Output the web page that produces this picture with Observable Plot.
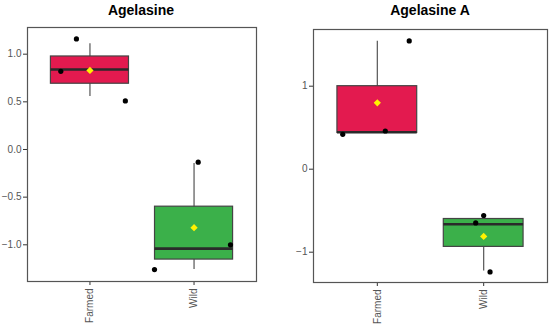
<!DOCTYPE html>
<html>
<head>
<meta charset="utf-8">
<script src="https://cdn.jsdelivr.net/npm/d3@7"></script>
<script src="https://cdn.jsdelivr.net/npm/@observablehq/plot@0.6"></script>
<style>
  html, body { margin: 0; padding: 0; background: #fff; }
  #wrap { position: relative; width: 550px; height: 328px; font-family: "Liberation Sans", Arial, sans-serif; }
  .panel { position: absolute; top: 0; width: 275px; height: 328px; }
  .title { position: absolute; top: 0; height: 20px; line-height: 20px; font-weight: bold; font-size: 14px; color: #000; text-align: center; white-space: nowrap; }
  .panel svg { position: absolute; top: 20px; left: 0; }
</style>
</head>
<body>
<div id="wrap">
  <div class="panel" id="p1" style="left:0px"></div>
  <div class="panel" id="p2" style="left:275px"></div>
</div>
<script>
// ---- data ----
const categories = ["Farmed", "Wild"];
const compounds = ["Agelasine", "Agelasine A"];
const groupColors = ["#E31A4F", "#3BB04A"];

// Agelasine box statistics (Farmed, Wild)
const agelasineLow    = [0.556, -1.26];
const agelasineQ1     = [0.69, -1.155];
const agelasineMedian = [0.84, -1.04];
const agelasineQ3     = [0.976, -0.60];
const agelasineHigh   = [1.11, -0.147];
const agelasineMean   = [0.83, -0.82];
// Agelasine jittered samples
const agelasinePointGroup = [0, 0, 0, 1, 1, 1];
const agelasinePointJitter = [-0.28, -0.13, 0.34, -0.38, 0.35, 0.04];
const agelasinePointValue = [0.82, 1.16, 0.51, -1.26, -1.0, -0.133];

// Agelasine A box statistics (Farmed, Wild)
const agelasineALow    = [0.437, -1.225];
const agelasineAQ1     = [0.437, -0.936];
const agelasineAMedian = [0.445, -0.663];
const agelasineAQ3     = [1.0, -0.60];
const agelasineAHigh   = [1.54, -0.558];
const agelasineAMean   = [0.80, -0.81];
const agelasineAPointGroup = [0, 0, 0, 1, 1, 1];
const agelasineAPointJitter = [-0.325, 0.075, 0.30, -0.075, 0.0, 0.06];
const agelasineAPointValue = [0.42, 0.46, 1.545, -0.647, -0.558, -1.237];

const agelasineTicks = [-1.0, -0.5, 0.0, 0.5, 1.0];
const agelasineATicks = [-1, 0, 1];

function boxTable(low, q1, med, q3, high, mean) {
  return categories.map((c, i) => ({
    cat: c, pos: i + 1, low: low[i], q1: q1[i], median: med[i], q3: q3[i], high: high[i], mean: mean[i], color: groupColors[i]
  }));
}
function pointTable(group, jitter, value) {
  return value.map((v, i) => ({pos: group[i] + 1 + jitter[i], value: v}));
}

function panel(opts) {
  const boxes = opts.boxes, pts = opts.points;
  const hw = 0.375;
  return Plot.plot({
    width: 275,
    height: 308,
    marginLeft: opts.marginLeft,
    marginRight: opts.marginRight,
    marginTop: opts.marginTop,
    marginBottom: opts.marginBottom,
    style: {fontFamily: "'Liberation Sans', Arial, sans-serif", fontSize: "10px", background: "white"},
    x: {domain: [0.4, 2.6], axis: null},
    y: {domain: opts.yDomain, axis: null},
    marks: [
      Plot.axisY({ticks: opts.ticks, tickFormat: opts.tickFormat, tickSize: 4, tickPadding: 2, stroke: "#333", color: "#555", fontSize: 10, label: null}),
      Plot.axisX({ticks: [1, 2], tickFormat: d => categories[d - 1], tickSize: 4, tickPadding: 3, tickRotate: -90, stroke: "#333", color: "#555", fontSize: 10, label: null}),
      Plot.ruleX(boxes, {x: "pos", y1: "low", y2: "high", stroke: "#555", strokeWidth: 1.2}),
      Plot.rect(boxes, {x1: d => d.pos - hw, x2: d => d.pos + hw, y1: "q1", y2: "q3", fill: d => d.color, stroke: "#444", strokeWidth: 1.2}),
      Plot.ruleY(boxes, {y: "median", x1: d => d.pos - hw, x2: d => d.pos + hw, stroke: "#2a2a2a", strokeWidth: 2.6}),
      Plot.dot(boxes, {x: "pos", y: "mean", symbol: "square", rotate: 45, r: 2.9, fill: "#FFF200", stroke: "none"}),
      Plot.dot(pts, {x: "pos", y: "value", r: 2.6, fill: "#000", stroke: "none"}),
      Plot.frame({stroke: "#555", strokeWidth: 1.2})
    ]
  });
}

const p1 = document.getElementById("p1");
const t1 = document.createElement("div");
t1.className = "title"; t1.style.left = "0px"; t1.style.width = "282px";
t1.textContent = compounds[0];
p1.appendChild(t1);
p1.appendChild(panel({
  boxes: boxTable(agelasineLow, agelasineQ1, agelasineMedian, agelasineQ3, agelasineHigh, agelasineMean),
  points: pointTable(agelasinePointGroup, agelasinePointJitter, agelasinePointValue),
  marginLeft: 27, marginRight: 19, marginTop: 7, marginBottom: 47,
  yDomain: [-1.385, 1.28], ticks: agelasineTicks, tickFormat: d3.format(".1f")
}));

const p2 = document.getElementById("p2");
const t2 = document.createElement("div");
t2.className = "title"; t2.style.left = "38px"; t2.style.width = "234px";
t2.textContent = compounds[1];
p2.appendChild(t2);
p2.appendChild(panel({
  boxes: boxTable(agelasineALow, agelasineAQ1, agelasineAMedian, agelasineAQ3, agelasineAHigh, agelasineAMean),
  points: pointTable(agelasineAPointGroup, agelasineAPointJitter, agelasineAPointValue),
  marginLeft: 38, marginRight: 3, marginTop: 9, marginBottom: 46,
  yDomain: [-1.365, 1.683], ticks: agelasineATicks, tickFormat: d3.format("d")
}));
</script>
</body>
</html>
